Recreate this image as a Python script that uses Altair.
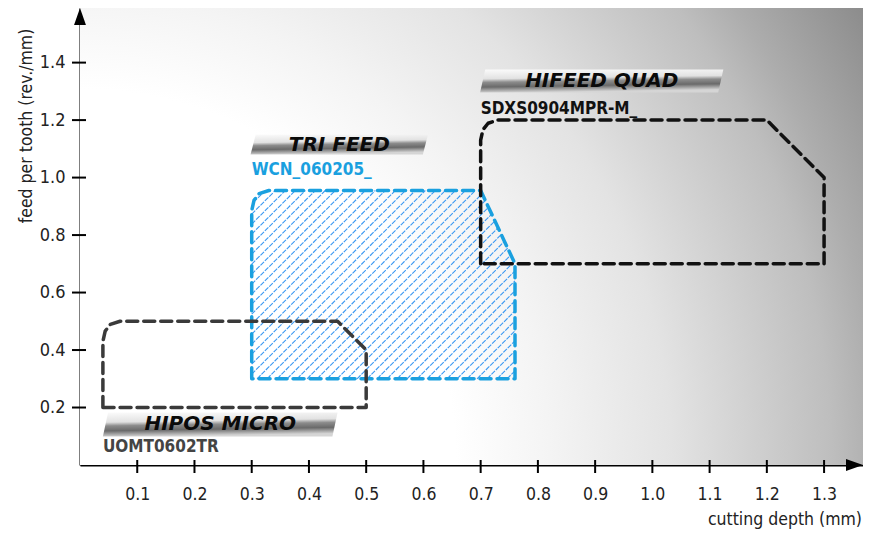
import altair as alt
import pandas as pd
import numpy as np

# ---------------- data ----------------
x_ticks = [0.1, 0.2, 0.3, 0.4, 0.5, 0.6, 0.7, 0.8, 0.9, 1.0, 1.1, 1.2, 1.3]
y_ticks = [0.2, 0.4, 0.6, 0.8, 1.0, 1.2, 1.4]

# application areas (cutting depth, feed per tooth)
uomt_x = [0.04, 0.04, 0.044, 0.053, 0.07, 0.45, 0.50, 0.50, 0.04]
uomt_y = [0.20, 0.43, 0.466, 0.489, 0.50, 0.50, 0.40, 0.20, 0.20]

wcn_x = [0.30, 0.30, 0.304, 0.313, 0.33, 0.70, 0.76, 0.76, 0.30]
wcn_y = [0.30, 0.885, 0.921, 0.944, 0.955, 0.955, 0.70, 0.30, 0.30]

sdxs_x = [0.70, 0.70, 0.704, 0.713, 0.73, 1.20, 1.30, 1.30, 0.70]
sdxs_y = [0.70, 1.13, 1.166, 1.189, 1.20, 1.20, 1.00, 0.70, 0.70]

insert_names = ["UOMT0602TR", "WCN_060205_", "SDXS0904MPR-M_"]
family_names = ["HIPOS MICRO", "TRI FEED", "HIFEED QUAD"]
insert_colors = ["#444444", "#1aa0df", "#111111"]
label_x = [0.04, 0.30, 0.70]
label_y = [0.062, 1.026, 1.237]
banner_x0 = [0.04, 0.298, 0.699]
banner_x1 = [0.45, 0.608, 1.124]
banner_y0 = [0.099, 1.08, 1.296]
banner_y1 = [0.183, 1.15, 1.376]

# ---------------- layout ----------------
W, H = 783, 457
XMAX, YMAX = 1.368, 1.59
KX, KY = W / XMAX, H / YMAX
COND = "DejaVu Sans Condensed, Liberation Sans Narrow, sans-serif"

xs = alt.Scale(domain=[0, XMAX], nice=False, zero=False)
ys = alt.Scale(domain=[0, YMAX], nice=False, zero=False)

# background (radial gradient from lower-left)
bg_df = pd.DataFrame({"x": [0], "x2": [XMAX], "y": [0], "y2": [YMAX]})
bg = alt.Chart(bg_df).mark_rect(
    color=alt.RadialGradient(
        gradient="radial",
        x1=0, y1=0.792, r1=0,
        x2=0, y2=0.792, r2=1.2,
        stops=[
            alt.GradientStop(offset=0, color="#ffffff"),
            alt.GradientStop(offset=0.40, color="#ffffff"),
            alt.GradientStop(offset=0.5, color="#f4f4f4"),
            alt.GradientStop(offset=0.63, color="#e3e3e3"),
            alt.GradientStop(offset=0.8, color="#bebebe"),
            alt.GradientStop(offset=0.85, color="#adadad"),
            alt.GradientStop(offset=0.965, color="#8c8c8c"),
            alt.GradientStop(offset=1, color="#888888"),
        ],
    )
).encode(
    x=alt.X("x:Q", scale=xs, axis=alt.Axis(
        values=x_ticks, format=".1f", grid=False, ticks=False, title=None,
        domainColor="black", domainWidth=2, labelFont=COND, labelFontSize=17.5,
        labelColor="#222222", labelPadding=20, labelFlush=False)),
    x2="x2",
    y=alt.Y("y:Q", scale=ys, axis=alt.Axis(
        values=y_ticks, format=".1f", grid=False, ticks=False, title=None,
        domainColor="black", domainWidth=2, labelFont=COND, labelFontSize=18,
        labelColor="#222222", labelPadding=15, labelFlush=False)),
    y2="y2",
)

# tick marks crossing the axes
ytick = alt.Chart(pd.DataFrame({"v": y_ticks})).mark_rule(color="black", strokeWidth=2).encode(
    y=alt.Y("v:Q", scale=ys), x=alt.value(-8), x2=alt.value(6))
xtick = alt.Chart(pd.DataFrame({"v": x_ticks})).mark_rule(color="black", strokeWidth=2).encode(
    x=alt.X("v:Q", scale=xs), y=alt.value(H - 5), y2=alt.value(H + 8))

# arrow heads
arr = alt.Chart(pd.DataFrame({"x": [0, XMAX], "y": [YMAX, 0], "a": [0, 90]})).mark_point(
    shape="M0,0L0.7,2L-0.7,2Z", filled=True, color="black", opacity=1, size=289
).encode(x=alt.X("x:Q", scale=xs), y=alt.Y("y:Q", scale=ys), angle=alt.Angle("a:Q", scale=None))

# hatching of WCN area
px = np.array(wcn_x) * KX
py = np.array(wcn_y) * KY
dd = px - py
hx, hy, hx2, hy2 = [], [], [], []
step = 10
for c in np.arange(dd.min() + 3, dd.max(), step):
    pts = []
    for i in range(len(px) - 1):
        d0, d1 = dd[i] - c, dd[i + 1] - c
        if d0 == d1:
            continue
        if d0 * d1 <= 0:
            t = d0 / (d0 - d1)
            pts.append((px[i] + t * (px[i + 1] - px[i]), py[i] + t * (py[i + 1] - py[i])))
    if len(pts) >= 2:
        pts.sort()
        (ax, ay), (bx, by) = pts[0], pts[-1]
        hx.append(ax / KX); hy.append(ay / KY); hx2.append(bx / KX); hy2.append(by / KY)
hatch = alt.Chart(pd.DataFrame({"x": hx, "y": hy, "x2": hx2, "y2": hy2})).mark_rule(
    strokeWidth=1.1, strokeDash=[5, 1.2], opacity=1, strokeOpacity=1
).encode(x=alt.X("x:Q", scale=xs), y=alt.Y("y:Q", scale=ys), x2="x2", y2="y2",
         color=alt.value("#3a98f2"))


def outline(xv, yv, color):
    df = pd.DataFrame({"x": xv, "y": yv, "o": list(range(len(xv)))})
    return alt.Chart(df).mark_line(
        color=color, strokeWidth=3.5, strokeDash=[11, 6], strokeCap="round", strokeJoin="round"
    ).encode(x=alt.X("x:Q", scale=xs), y=alt.Y("y:Q", scale=ys), order="o:Q")


wcn_line = outline(wcn_x, wcn_y, insert_colors[1])
uomt_line = outline(uomt_x, uomt_y, "#3a3a3a")
sdxs_line = outline(sdxs_x, sdxs_y, insert_colors[2])

# banners
brows = []
for i, n in enumerate(family_names):
    slant = 0.009
    brows.append({"b": n, "y": banner_y0[i], "x": banner_x0[i], "x2": banner_x1[i] - slant})
    brows.append({"b": n, "y": banner_y1[i], "x": banner_x0[i] + slant, "x2": banner_x1[i]})
banners = alt.Chart(pd.DataFrame(brows)).mark_area(
    orient="horizontal",
    color=alt.LinearGradient(
        gradient="linear", x1=0, y1=0, x2=0.15, y2=1,
        stops=[
            alt.GradientStop(offset=0, color="#fbfbfb"),
            alt.GradientStop(offset=0.4, color="#e2e2e2"),
            alt.GradientStop(offset=0.55, color="#8c8c8c"),
            alt.GradientStop(offset=0.75, color="#6a6a6a"),
            alt.GradientStop(offset=1, color="#d5d5d5"),
        ],
    ),
).encode(
    y=alt.Y("y:Q", scale=ys), x=alt.X("x:Q", scale=xs), x2="x2", detail="b:N"
)

bt_df = pd.DataFrame({
    "t": family_names,
    "x": [(a + b) / 2 for a, b in zip(banner_x0, banner_x1)],
    "y": [(a + b) / 2 for a, b in zip(banner_y0, banner_y1)],
})
banner_text = alt.Chart(bt_df).mark_text(
    font="DejaVu Sans", fontWeight="bold", fontStyle="italic", fontSize=20,
    color="#0a0a0a", align="center", baseline="middle"
).encode(x=alt.X("x:Q", scale=xs), y=alt.Y("y:Q", scale=ys), text="t:N")

lab_df = pd.DataFrame({"t": insert_names, "x": label_x, "y": label_y, "c": insert_colors})
labels = alt.Chart(lab_df).mark_text(
    font=COND, fontWeight="bold", fontSize=17, align="left", baseline="middle"
).encode(x=alt.X("x:Q", scale=xs), y=alt.Y("y:Q", scale=ys), text="t:N",
         color=alt.Color("c:N", scale=None))

# axis titles
ytitle = alt.Chart(pd.DataFrame({"t": ["feed per tooth (rev./mm)"]})).mark_text(
    font=COND, fontSize=17.5, color="#222222", angle=270, align="center", baseline="middle"
).encode(text="t:N", x=alt.value(-53), y=alt.value(118))
xtitle = alt.Chart(pd.DataFrame({"t": ["cutting depth (mm)"]})).mark_text(
    font=COND, fontSize=17.5, color="#222222", align="right", baseline="alphabetic"
).encode(text="t:N", x=alt.value(W - 1), y=alt.value(H + 60))

chart = alt.layer(
    bg, hatch, wcn_line, uomt_line, sdxs_line, banners, banner_text, labels,
    ytick, xtick, arr, ytitle, xtitle
).properties(
    width=W, height=H,
    autosize=alt.AutoSizeParams(type="none"),
    padding={"left": 72, "top": 0, "right": 0, "bottom": 65},
).configure_view(stroke=None)

chart.save("out.html", embed_options={"renderer": "svg", "actions": False})
